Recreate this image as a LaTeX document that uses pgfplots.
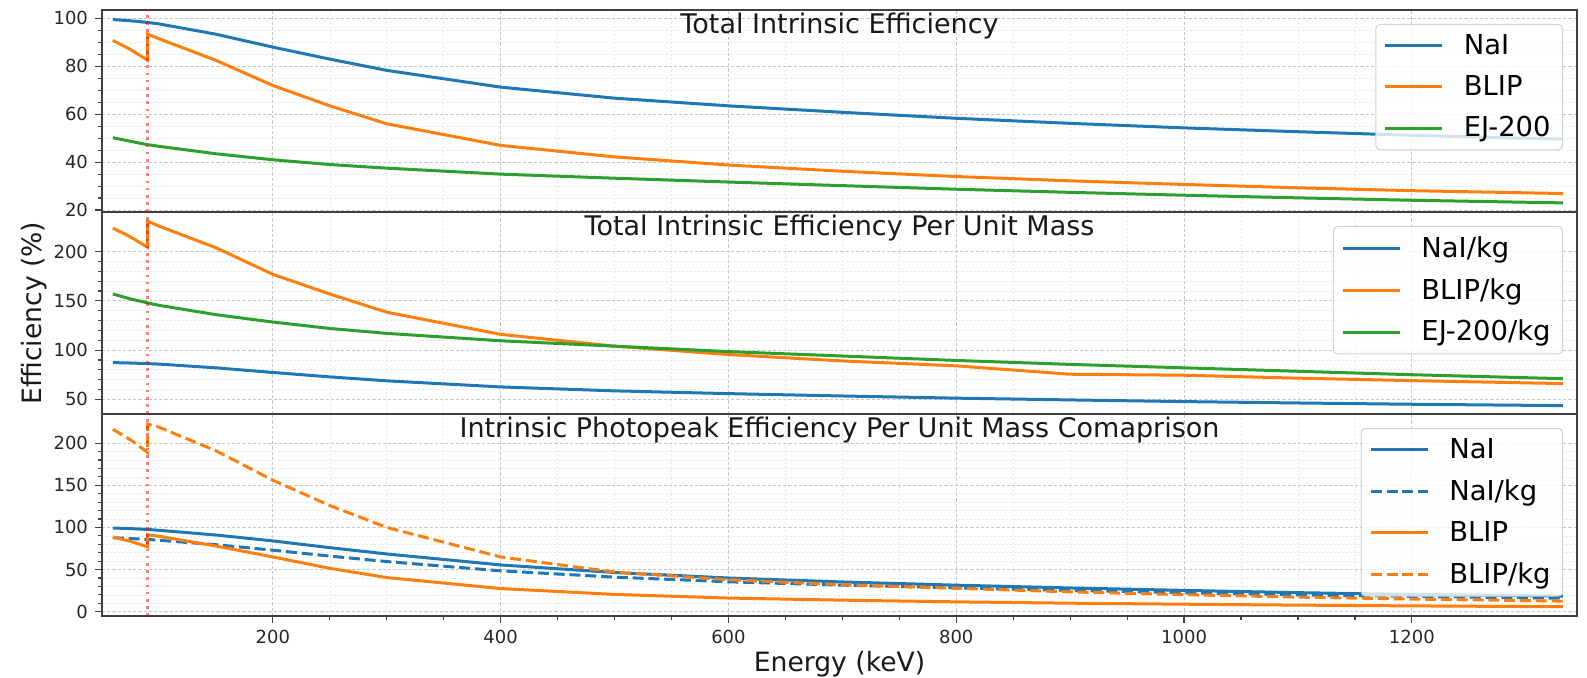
\documentclass[border=0pt]{standalone}
\usepackage{fontspec}
\setmainfont{DejaVu Sans}
\usepackage{pgfplots}
\usepackage{pgfplotstable}
\pgfplotsset{compat=1.18}
\definecolor{tabblue}{HTML}{1F77B4}
\definecolor{taborange}{HTML}{FF7F0E}
\definecolor{tabgreen}{HTML}{2CA02C}

\pgfplotstableread{
x      nai   blip  ej
59.5   99.5  90.8  50.2
75     99.0  87.0  48.7
90     98.3  82.6  47.3
90     98.3  93.5  47.3
100    97.7  91.5  46.6
150    93.4  82.5  43.5
200    88.0  72.0  41.0
250    83.0  63.5  39.0
300    78.3  56.0  37.5
400    71.3  47.0  35.0
500    66.7  42.2  33.3
600    63.5  38.8  31.7
700    60.8  36.2  30.2
800    58.3  34.0  28.7
900    56.2  32.2  27.4
1000   54.3  30.7  26.2
1100   52.7  29.3  25.1
1200   51.2  28.1  24.1
1332.5 49.6  26.9  23.0
}\tabtotal

\pgfplotstableread{
x      nai   blip   ej
59.5   87.3  224.0  157.0
75     86.9  215.0  152.0
90     86.3  204.5  148.0
90     86.3  231.0  148.0
100    85.8  226.0  145.5
150    82.0  204.0  136.0
200    77.3  177.0  128.5
250    72.8  157.0  122.0
300    68.8  138.5  117.0
400    62.6  116.0  109.5
500    58.6  104.0  104.0
600    55.8   95.5   98.5
700    53.4   89.0   94.0
800    51.2   84.0   89.5
900    49.4   75.5   85.5
1000   47.7   74.5   82.0
1100   46.3   71.5   78.5
1200   45.0   69.0   75.0
1332.5 43.6   66.0   71.0
}\tabmass

\pgfplotstableread{
x      nai   naikg  blip  blipkg
59.5   99.3  87.8   88.6  216.5
75     98.6  86.8   83.5  204.0
90     97.6  85.8   77.0  189.0
90     97.6  85.8   91.3  222.5
100    96.6  84.8   89.5  219.0
150    91.0  79.5   78.0  191.0
200    84.0  73.0   65.0  156.0
250    76.0  66.0   51.5  126.0
300    68.5  59.5   40.5  100.0
400    55.5  48.5   27.5   65.0
500    46.5  41.0   20.5   47.0
600    40.0  35.5   16.2   38.0
700    35.3  31.5   13.7   32.0
800    31.5  28.3   11.7   27.8
900    28.2  25.3   10.1   23.5
1000   25.3  22.5    8.9   20.2
1100   22.6  20.0    7.8   17.3
1200   20.5  18.1    6.9   15.0
1332.5 18.5  16.0    5.9   12.6
}\tabpeak

\pgfplotsset{
  panel/.style={
    scale only axis, width=737.5pt, height=101pt,
    xmin=50, xmax=1345,
    xtick={200,400,...,1200}, minor x tick num=3,
    grid=both,
    major grid style={black!22, line width=0.4pt, dash pattern=on 1.6pt off 1pt},
    minor grid style={black!9, line width=0.3pt, dash pattern=on 0.8pt off 1.2pt},
    axis line style={black!75, line width=0.6pt},
    tick align=outside, xtick pos=bottom, ytick pos=left,
    major tick length=3.5pt, minor tick length=2pt,
    tick style={black!75, line width=0.6pt},
    tick label style={font=\fontsize{9}{10}\selectfont, text=black!85},
    /pgf/number format/assume math mode=true,
    /pgf/number format/1000 sep={},
    every axis title shift=0pt,
    title style={at={(0.5,1)}, anchor=north, yshift=-1.5pt, inner sep=0pt,
      font=\fontsize{13.5}{15}\selectfont, text=black!90},
    legend style={at={(1,1)}, anchor=north east, xshift=-7pt, yshift=-7pt,
      draw=black!18, rounded corners=2pt, fill=white, fill opacity=0.8,
      text opacity=1, line width=0.5pt,
      font=\fontsize{13.7}{15}\selectfont, inner xsep=4pt, inner ysep=3pt,
      row sep=5pt,
      /tikz/every odd column/.append style={column sep=8pt}},
    legend cell align=left,
    legend image code/.code={\draw[#1] (0pt,0pt) -- (28.5pt,0pt);},
    every axis plot/.append style={line width=1.5pt},
  },
  edge/.style={forget plot, red, opacity=0.5, line width=1.3pt,
    dash pattern=on 1.3pt off 2.3pt},
  dsh/.style={dash pattern=on 5.5pt off 2.4pt},
}

\begin{document}
\begin{tikzpicture}
\begin{axis}[panel, name=p1,
  ymin=19.2, ymax=103.5, ytick={20,40,...,100}, minor y tick num=3,
  xticklabels={}, xtick style={draw=none}, minor x tick style={draw=none},
  title={Total Intrinsic Efficiency}]
\addplot[tabblue] table[x=x,y=nai]{\tabtotal};
\addlegendentry{NaI}
\addplot[taborange] table[x=x,y=blip]{\tabtotal};
\addlegendentry{BLIP}
\addplot[tabgreen] table[x=x,y=ej]{\tabtotal};
\addlegendentry{EJ-200}
\addplot[edge] coordinates {(90,19.2) (90,103.5)};
\end{axis}

\begin{axis}[panel, name=p2, at={(p1.south west)}, anchor=north west,
  ymin=35.1, ymax=240.3, ytick={50,100,150,200}, minor y tick num=4,
  xticklabels={}, xtick style={draw=none}, minor x tick style={draw=none},
  title={Total Intrinsic Efficiency Per Unit Mass}]
\addplot[tabblue] table[x=x,y=nai]{\tabmass};
\addlegendentry{NaI/kg}
\addplot[taborange] table[x=x,y=blip]{\tabmass};
\addlegendentry{BLIP/kg}
\addplot[tabgreen] table[x=x,y=ej]{\tabmass};
\addlegendentry{EJ-200/kg}
\addplot[edge] coordinates {(90,35.1) (90,240.3)};
\end{axis}

\begin{axis}[panel, name=p3, at={(p2.south west)}, anchor=north west,
  ymin=-5.1, ymax=234.6, ytick={0,50,...,200}, minor y tick num=4,
  title={Intrinsic Photopeak Efficiency Per Unit Mass Comaprison}]
\addplot[tabblue] table[x=x,y=nai]{\tabpeak};
\addlegendentry{NaI}
\addplot[tabblue, dsh] table[x=x,y=naikg]{\tabpeak};
\addlegendentry{NaI/kg}
\addplot[taborange] table[x=x,y=blip]{\tabpeak};
\addlegendentry{BLIP}
\addplot[taborange, dsh] table[x=x,y=blipkg]{\tabpeak};
\addlegendentry{BLIP/kg}
\addplot[edge] coordinates {(90,-5.1) (90,234.6)};
\end{axis}

\node[rotate=90, font=\fontsize{13.3}{15}\selectfont, text=black!90]
  at ([xshift=-34pt]p2.west) {Efficiency (\%)};
\node[font=\fontsize{13.3}{15}\selectfont, text=black!90]
  at ([yshift=-24pt]p3.south) {Energy (keV)};

\pgfresetboundingbox
\path[use as bounding box] ([xshift=-51pt,yshift=5pt]p1.north west)
  rectangle ([xshift=5pt,yshift=-31pt]p3.south east);
\end{tikzpicture}
\end{document}
